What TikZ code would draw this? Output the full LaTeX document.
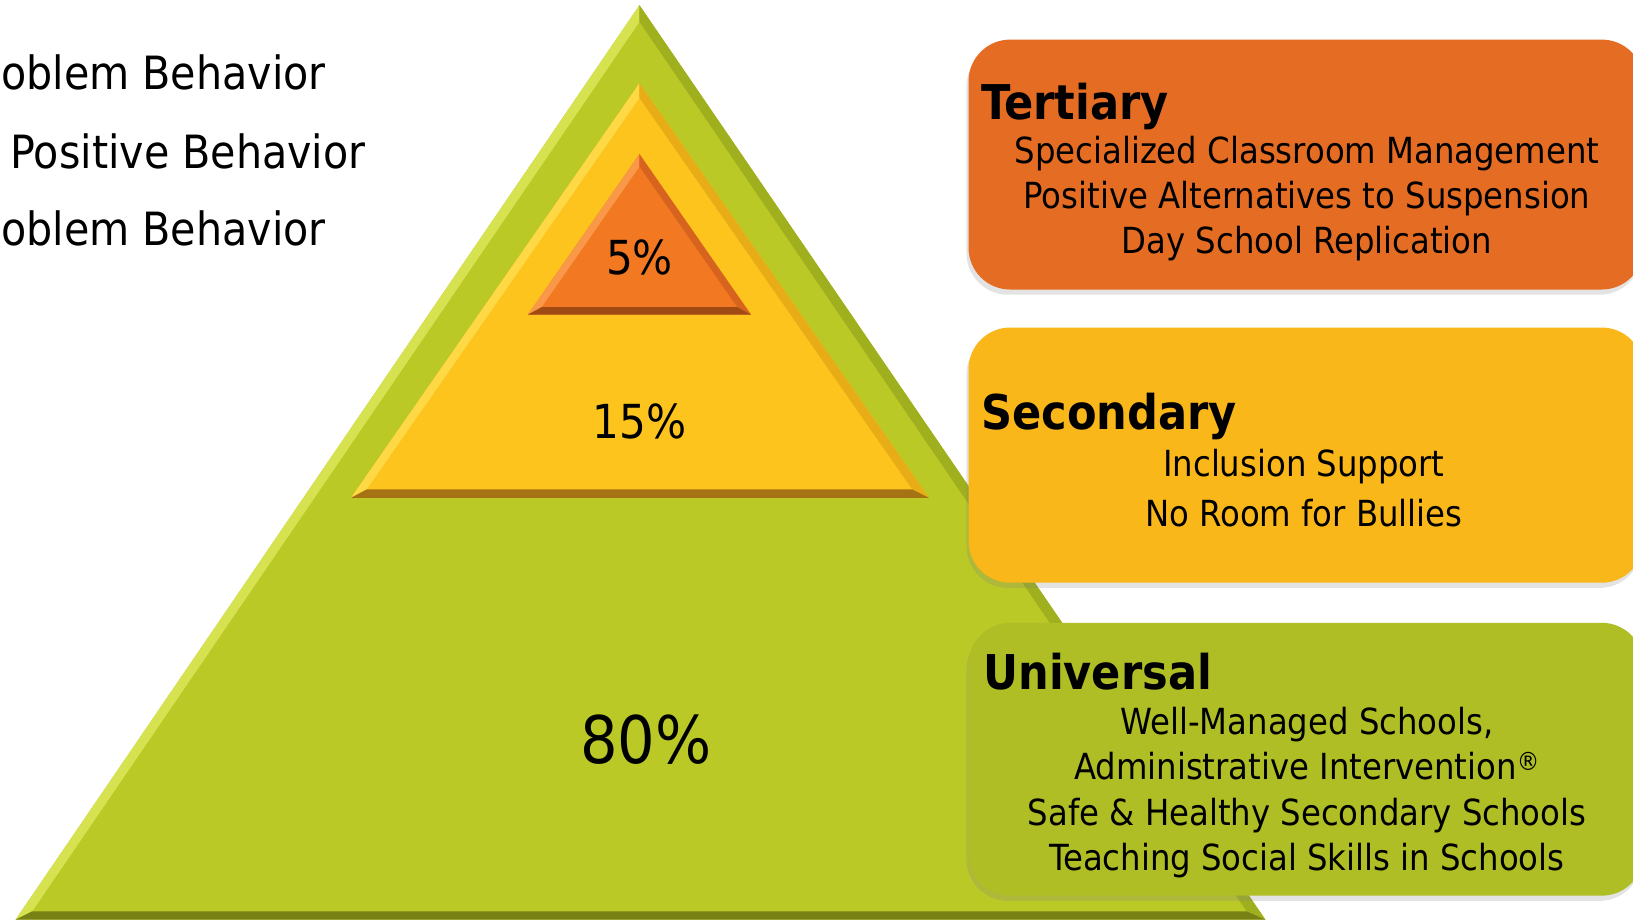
\documentclass[tikz,border=0pt]{standalone}
\usepackage{fontspec}
\setmainfont{DejaVu Sans Condensed}
\usetikzlibrary{positioning,shadows}
\definecolor{grn}{RGB}{187,201,39}
\definecolor{grnlight}{RGB}{214,226,80}
\definecolor{grndark}{RGB}{160,175,30}
\definecolor{grnshade}{RGB}{120,130,20}
\definecolor{yel}{RGB}{252,196,28}
\definecolor{yellight}{RGB}{255,216,70}
\definecolor{yeldark}{RGB}{232,172,22}
\definecolor{yelshade}{RGB}{165,115,20}
\definecolor{org}{RGB}{243,120,34}
\definecolor{orglight}{RGB}{249,152,72}
\definecolor{orgdark}{RGB}{215,100,30}
\definecolor{orgshade}{RGB}{160,75,20}
\definecolor{tertfill}{RGB}{229,108,35}
\definecolor{secfill}{RGB}{250,183,26}
\definecolor{unifill}{RGB}{175,190,36}
\tikzset{
  tierbox/.style={rounded corners=40pt, minimum width=648pt, inner sep=0pt,
    drop shadow={shadow xshift=-2pt, shadow yshift=-5pt, opacity=.22}},
  tiertitle/.style={font=\fontsize{46}{50}\selectfont\bfseries, anchor=base west, inner sep=0pt},
  tiertext/.style={font=\fontsize{34.5}{43.3}\selectfont, align=center, inner sep=0pt},
  goal/.style={font=\fontsize{44}{50}\selectfont, anchor=west, inner sep=0pt},
  pct/.style={font=\fontsize{45}{50}\selectfont, inner sep=0pt}
}
\begin{document}
\begin{tikzpicture}[x=1pt, y=-1pt]
  \useasboundingbox (0,0) rectangle (1568,883);
  % goals on the left
  \node[goal] (goal1) at (1,70) {oblem Behavior};
  \node[goal] (goal2) at (10,145) {Positive Behavior};
  \node[goal] (goal3) at (1,219) {oblem Behavior};
  % green tier
  \fill[grn] (614,5) -- (15,883) -- (1215,883) -- cycle;
  \fill[grnlight] (614,5) -- (15,883) -- (31,875) -- (614,21) -- cycle;
  \fill[grndark] (614,5) -- (1215,883) -- (1197,875) -- (614,21) -- cycle;
  \fill[grnshade] (15,883) -- (1215,883) -- (1197,875) -- (31,875) -- cycle;
  % yellow tier
  \fill[yel] (614,80) -- (337,478) -- (892,478) -- cycle;
  \fill[yellight] (614,80) -- (337,478) -- (352,470) -- (614,94) -- cycle;
  \fill[yeldark] (614,80) -- (892,478) -- (876,470) -- (614,94) -- cycle;
  \fill[yelshade] (337,478) -- (892,478) -- (876,470) -- (352,470) -- cycle;
  % orange tier
  \fill[org] (614,148) -- (507,302) -- (721,302) -- cycle;
  \fill[orglight] (614,148) -- (507,302) -- (520,295) -- (614,160) -- cycle;
  \fill[orgdark] (614,148) -- (721,302) -- (708,295) -- (614,160) -- cycle;
  \fill[orgshade] (507,302) -- (721,302) -- (708,295) -- (520,295) -- cycle;
  \node[pct] (p5) at (614,247) {5\%};
  \node[pct] (p15) at (614,405) {15\%};
  \node[pct, font=\fontsize{63}{70}\selectfont] (p80) at (620,710) {80\%};
  % boxes
  \node[tierbox, fill=tertfill, minimum height=240pt] (tert) at (1254,158) {};
  \node[tiertitle] (terttitle) at (942,115) {Tertiary};
  \node[tiertext] (terttext) at (1255,191) {Specialized Classroom Management\\Positive Alternatives to Suspension\\Day School Replication};
  \node[tierbox, fill=secfill, minimum height=245pt] (sec) at (1254,437) {};
  \node[tiertitle] (sectitle) at (942,412) {Secondary};
  \node[tiertext, font=\fontsize{34.5}{48}\selectfont] (sectext) at (1252,469) {Inclusion Support\\No Room for Bullies};
  \node[tierbox, fill=unifill, minimum height=262pt] (uni) at (1254,729) {};
  \node[tiertitle] (unititle) at (944,662) {Universal};
  \node[tiertext] (unitext) at (1255,761) {Well-Managed Schools,\\Administrative Intervention\textsuperscript{®}\\Safe \& Healthy Secondary Schools\\Teaching Social Skills in Schools};
\end{tikzpicture}
\end{document}
